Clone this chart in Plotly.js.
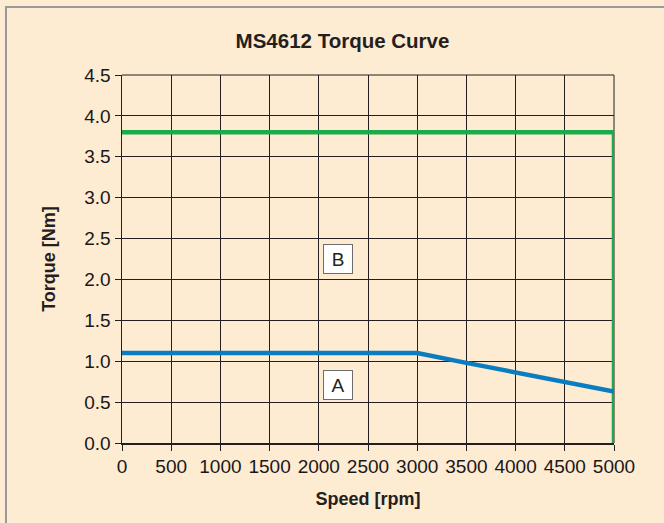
<!DOCTYPE html>
<html>
<head>
<meta charset="utf-8">
<script src="https://cdn.plot.ly/plotly-3.0.1.min.js"></script>
<style>html,body{margin:0;padding:0;background:#fdebd2;}</style>
</head>
<body>
<div id="chart" style="width:664px;height:523px;"></div>
<script>
// Data
const speedA = [0, 3000, 3500, 4000, 4500, 5000];
const torqueA = [1.1, 1.1, 0.98, 0.86, 0.74, 0.63];
const speedB = [0, 5000, 5000];
const torqueB = [3.8, 3.8, 0];
const regionLabels = ['A', 'B'];
const labelSpeed = [2200, 2200];
const labelTorque = [0.71, 2.25];
const xTicks = [0, 500, 1000, 1500, 2000, 2500, 3000, 3500, 4000, 4500, 5000];
const yTicks = [0, 0.5, 1, 1.5, 2, 2.5, 3, 3.5, 4, 4.5];

const bg = '#fdebd2';
const ink = '#231f20';
const fam = 'Liberation Sans, Arial, sans-serif';
const traces = [
  {x: speedB, y: torqueB, mode: 'lines', line: {color: '#1aab4b', width: 4.5}, cliponaxis: false, hoverinfo: 'skip'},
  {x: speedA, y: torqueA, mode: 'lines', line: {color: '#0a7dc0', width: 4.5}, cliponaxis: false, hoverinfo: 'skip'}
];

const annotations = regionLabels.map((t, i) => ({
  x: labelSpeed[i], y: labelTorque[i], xref: 'x', yref: 'y', text: t, showarrow: false,
  font: {family: fam, size: 19, color: ink},
  width: 26, height: 26,
  bgcolor: '#ffffff', bordercolor: '#6d6d6d', borderwidth: 1, borderpad: 1
}));

const layout = {
  width: 664, height: 523,
  paper_bgcolor: bg, plot_bgcolor: bg,
  margin: {l: 122, r: 50, t: 75, b: 80},
  showlegend: false,
  title: {text: '<b>MS4612 Torque Curve</b>', x: 342.5 / 664, xref: 'container', xanchor: 'center',
          y: 1 - 40.5 / 523, yref: 'container', yanchor: 'middle',
          font: {family: fam, size: 20.5, color: ink}},
  font: {family: fam, color: ink},
  xaxis: {
    range: [0, 5000], tickvals: xTicks, ticktext: xTicks.map(String),
    showgrid: true, gridcolor: ink, gridwidth: 1,
    showline: true, linecolor: ink, linewidth: 1.5,
    ticks: 'outside', ticklen: 6, tickcolor: ink,
    zeroline: false, tickfont: {family: fam, size: 19, color: '#1a1718'},
    title: {text: '<b>Speed [rpm]</b>', font: {family: fam, size: 18, color: ink}, standoff: 16},
    fixedrange: true
  },
  yaxis: {
    range: [0, 4.5], tickvals: yTicks, ticktext: yTicks.map(v => v.toFixed(1)),
    showgrid: true, gridcolor: ink, gridwidth: 1,
    showline: true, linecolor: ink, linewidth: 1.5,
    ticks: 'outside', ticklen: 6, tickcolor: ink,
    zeroline: false, tickfont: {family: fam, size: 19, color: '#1a1718'},
    title: {text: '<b>Torque [Nm]</b>', font: {family: fam, size: 18, color: ink}, standoff: 24},
    fixedrange: true
  },
  annotations: annotations,
  shapes: [
    {type: 'rect', xref: 'paper', yref: 'paper', x0: -0.2358, x1: 1.3, y0: -0.3, y1: 1.1848,
     line: {color: '#999999', width: 2}, fillcolor: 'rgba(0,0,0,0)', layer: 'below'},
    {type: 'line', xref: 'paper', yref: 'paper', x0: 0, x1: 1, y0: 1, y1: 1,
     line: {color: ink, width: 1}, layer: 'below'},
    {type: 'line', xref: 'paper', yref: 'paper', x0: 1, x1: 1, y0: 0, y1: 1,
     line: {color: ink, width: 1}, layer: 'below'}
  ]
};

Plotly.newPlot('chart', traces, layout, {displayModeBar: false, staticPlot: true});
</script>
</body>
</html>
